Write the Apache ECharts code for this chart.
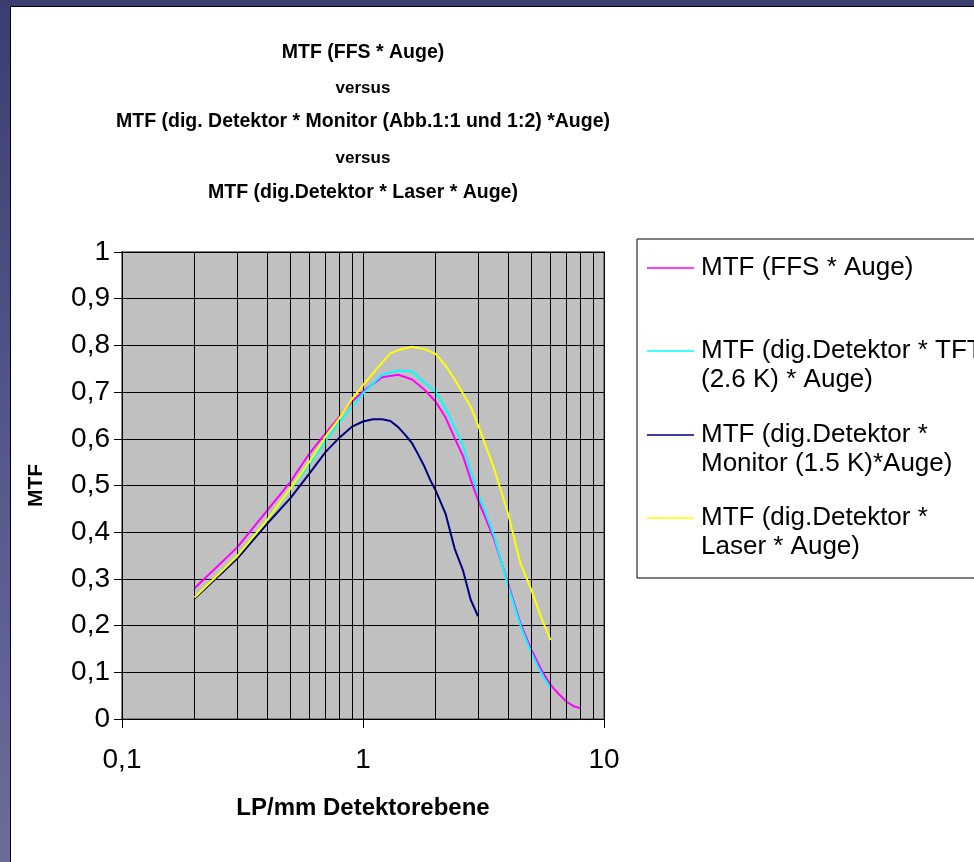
<!DOCTYPE html>
<html>
<head>
<meta charset="utf-8">
<script src="https://cdn.jsdelivr.net/npm/echarts@6/dist/echarts.min.js"></script>
<style>
  html, body { margin: 0; padding: 0; width: 974px; height: 862px; overflow: hidden;
    background: linear-gradient(to bottom, #3b3f6f 0%, #55578a 50%, #6c6c9c 100%); }
  #panel { position: absolute; left: 10px; top: 6px; right: 0; bottom: 0; background: #fff;
    border-left: 1px solid #000; border-top: 1px solid #000; }
  #chart { position: absolute; left: 0; top: 0; width: 974px; height: 862px; }
</style>
</head>
<body>
<div id="panel"></div>
<div id="chart"></div>
<script>
// ---- data ----
const titleLines = [
  'MTF (FFS * Auge)',
  'versus',
  'MTF (dig. Detektor * Monitor (Abb.1:1 und 1:2) *Auge)',
  'versus',
  'MTF (dig.Detektor * Laser * Auge)'
];
const seriesNames = [
  'MTF (FFS * Auge)',
  'MTF (dig.Detektor * TFT (2.6 K) * Auge)',
  'MTF (dig.Detektor * Monitor (1.5 K)*Auge)',
  'MTF (dig.Detektor * Laser * Auge)'
];
const legendLines = [
  ['MTF (FFS * Auge)'],
  ['MTF (dig.Detektor * TFT', '(2.6 K) * Auge)'],
  ['MTF (dig.Detektor *', 'Monitor (1.5 K)*Auge)'],
  ['MTF (dig.Detektor *', 'Laser * Auge)']
];
const xMinorGrid = [0.2, 0.3, 0.4, 0.5, 0.6, 0.7, 0.8, 0.9, 2, 3, 4, 5, 6, 7, 8, 9];

const ffsX = [0.2,0.3,0.4,0.5,0.6,0.7,0.8,0.9,1.0,1.2,1.4,1.6,1.8,2.0,2.2,2.4,2.6,2.8,3.0,3.5,4.0,4.5,5.0,5.5,6.0,6.5,7.0,7.5,8.0];
const ffsY = [0.280,0.367,0.446,0.508,0.569,0.612,0.648,0.680,0.701,0.732,0.737,0.727,0.705,0.680,0.646,0.602,0.563,0.512,0.469,0.385,0.290,0.205,0.148,0.105,0.073,0.053,0.037,0.027,0.023];

const tftX = [0.2,0.3,0.4,0.5,0.6,0.7,0.8,0.9,1.0,1.2,1.4,1.6,1.8,2.0,2.2,2.4,2.6,2.8,3.0,3.5,4.0,4.5,5.0,5.5,6.0];
const tftY = [0.258,0.347,0.425,0.492,0.545,0.596,0.636,0.668,0.697,0.737,0.746,0.744,0.720,0.701,0.665,0.625,0.585,0.530,0.485,0.392,0.285,0.200,0.141,0.097,0.066];

const monX = [0.2,0.3,0.4,0.5,0.6,0.7,0.8,0.9,1.0,1.1,1.2,1.3,1.4,1.5,1.6,1.7,1.8,1.9,2.0,2.2,2.4,2.6,2.8,3.0];
const monY = [0.258,0.343,0.418,0.473,0.526,0.572,0.603,0.626,0.637,0.642,0.642,0.638,0.625,0.608,0.590,0.565,0.540,0.512,0.490,0.440,0.365,0.318,0.255,0.220];

const lasX = [0.2,0.3,0.4,0.5,0.6,0.7,0.8,0.9,1.0,1.2,1.3,1.4,1.6,1.8,2.0,2.2,2.4,2.6,2.8,3.0,3.5,4.0,4.5,5.0,5.5,6.0];
const lasY = [0.260,0.348,0.426,0.494,0.551,0.605,0.645,0.685,0.715,0.763,0.783,0.790,0.797,0.792,0.782,0.757,0.727,0.697,0.668,0.630,0.536,0.440,0.333,0.276,0.216,0.169];

const colors = ['#ff00ff', '#00ffff', '#000080', '#ffff00'];

// ---- build ----
const FONT = '"Liberation Sans", Arial, sans-serif';
const zip = (xs, ys) => xs.map((x, i) => [x, ys[i]]);
const seriesData = [zip(ffsX, ffsY), zip(tftX, tftY), zip(monX, monY), zip(lasX, lasY)];

const titleCenters = [53, 88, 122, 158, 193];
const titleSizes = [19.5, 17, 19.5, 17, 19.5];
const titles = titleLines.map((t, i) => ({
  text: t, left: 363, textAlign: 'center', padding: 0,
  top: titleCenters[i] - Math.round(titleSizes[i] * 1.2 / 2),
  textStyle: { fontFamily: FONT, fontWeight: 'bold', fontSize: titleSizes[i],
    lineHeight: Math.round(titleSizes[i] * 1.2), color: '#000' }
}));

// legend drawn as graphic elements (box, line samples, labels)
const legendCenters = [268, 351, 435, 518];
const LH = 29;
const legendGraphics = [{
  type: 'rect', z: 0, silent: true,
  shape: { x: 637, y: 239, width: 400, height: 339 },
  style: { fill: '#fff', stroke: '#000', lineWidth: 1 }
}];
seriesNames.forEach((n, i) => {
  legendGraphics.push({
    type: 'line', z: 1, silent: true,
    shape: { x1: 647, y1: legendCenters[i], x2: 694, y2: legendCenters[i] },
    style: { stroke: colors[i], lineWidth: 1.5 }
  });
  legendGraphics.push({
    type: 'text', z: 1, silent: true, x: 701, y: legendCenters[i] - LH / 2,
    style: { text: legendLines[i].join('\n'), fontFamily: FONT, fontSize: 26,
      lineHeight: LH, fill: '#000', align: 'left', verticalAlign: 'top' }
  });
});

const series = [{
  type: 'line', name: '_grid', data: [], z: 1, silent: true,
  markLine: {
    silent: true, symbol: ['none', 'none'], animation: false,
    label: { show: false },
    lineStyle: { color: '#000', type: 'solid', width: 1 },
    emphasis: { disabled: true },
    data: xMinorGrid.map(v => ({ xAxis: v }))
  }
}].concat(seriesNames.map((n, i) => ({
  type: 'line', name: n, data: seriesData[i], symbol: 'none', showSymbol: false,
  smooth: false, z: 2 + i, animation: false,
  lineStyle: { color: colors[i], width: 2 },
  itemStyle: { color: colors[i] }
})));

const chart = echarts.init(document.getElementById('chart'), null, { renderer: 'canvas' });
chart.setOption({
  backgroundColor: 'transparent',
  animation: false,
  title: titles,
  graphic: legendGraphics,
  grid: {
    left: 122, right: 370, top: 252, bottom: 143,
    show: true, backgroundColor: '#c0c0c0', borderColor: '#808080', borderWidth: 2,
    containLabel: false, outerBoundsMode: 'none'
  },
  xAxis: {
    type: 'log', logBase: 10, min: 0.1, max: 10,
    name: 'LP/mm Detektorebene', nameLocation: 'middle', nameGap: 77,
    nameTextStyle: { fontFamily: FONT, fontWeight: 'bold', fontSize: 24, color: '#000' },
    axisLine: { show: true, onZero: false, lineStyle: { color: '#000', width: 1 } },
    axisTick: { show: true, inside: false, length: 9, lineStyle: { color: '#000' } },
    splitLine: { show: true, lineStyle: { color: '#000', width: 1 } },
    minorTick: { show: false }, minorSplitLine: { show: false },
    axisLabel: { fontFamily: FONT, fontSize: 28, color: '#000', margin: 27,
      formatter: v => String(v).replace('.', ',') }
  },
  yAxis: {
    type: 'value', min: 0, max: 1, interval: 0.1,
    name: 'MTF', nameLocation: 'middle', nameRotate: 90, nameGap: 75,
    nameTextStyle: { fontFamily: FONT, fontWeight: 'bold', fontSize: 21, color: '#000' },
    axisLine: { show: true, lineStyle: { color: '#000', width: 1 } },
    axisTick: { show: true, inside: false, length: 8, lineStyle: { color: '#000' } },
    splitLine: { show: true, lineStyle: { color: '#000', width: 1 } },
    axisLabel: { fontFamily: FONT, fontSize: 28, color: '#000', margin: 12,
      formatter: v => (v === 0 || v === 1) ? String(v) : v.toFixed(1).replace('.', ',') }
  },
  tooltip: { show: false },
  series: series
});
</script>
</body>
</html>
